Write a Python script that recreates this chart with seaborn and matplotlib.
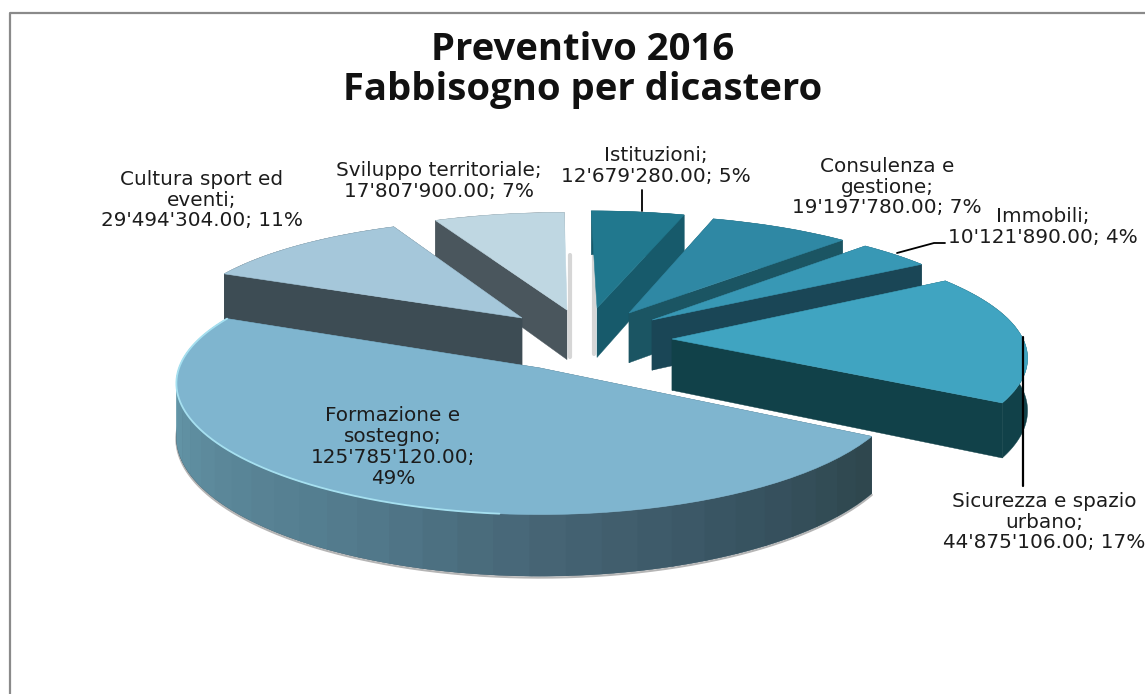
import numpy as np
import seaborn as sns
import matplotlib
matplotlib.use("Agg")
import matplotlib.pyplot as plt
from matplotlib.transforms import Transform

# ---- data ----
names = ["Istituzioni", "Consulenza e\ngestione", "Immobili", "Sicurezza e spazio\nurbano",
         "Formazione e\nsostegno", "Cultura sport ed\neventi", "Sviluppo territoriale"]
values = [12679280.0, 19197780.0, 10121890.0, 44875106.0, 125785120.0, 29494304.0, 17807900.0]
percents = [5, 7, 4, 17, 49, 11, 7]
title_lines = ["Preventivo 2016", "Fabbisogno per dicastero"]

# ---- styles ----
top_colors = ["#21788e", "#2f88a4", "#3898b5", "#40a4c1", "#7fb5cf", "#a5c7da", "#bfd7e2"]
side_colors = ["#175a6b", "#1b5563", "#1a4656", "#114149", "#3a5563", "#3d4c54", "#4a565d"]
rim_ramp = ["#6fa8bc", "#6497a9", "#5b8799", "#527a8c", "#466474", "#385462", "#2f474e"]
draw_order = [0, 6, 1, 5, 2, 3, 4]
apexes = [(597, 308), (629, 313), (652, 320), (672, 339), (540, 368), (522, 318), (567, 310)]
label_pos = [(656, 166), (887, 187), (1043, 227), (1044, 522), (393, 447), (202, 200), (439, 181)]
CX, CY, R, r, K, KX, DEPTH = 540, 368, 361, 126, 0.14, 0.12, 53


class PieProjection(Transform):
    input_dims = output_dims = 2
    is_separable = False
    has_inverse = False

    def transform_non_affine(self, pts):
        pts = np.asarray(pts, float)
        return np.column_stack([CX + R * pts[:, 0] / (1 + KX * pts[:, 1]),
                                CY - r * pts[:, 1] / (1 + K * pts[:, 1])])


def to_plane(x, y):
    d = (CY - y) / r
    v = d / (1 - K * d)
    return (x - CX) * (1 + KX * v) / R, v


def drop(u, v):
    return DEPTH / (1 + K * np.asarray(v))


proj = PieProjection()
sns.set_theme(style="white")
plt.rcParams["font.family"] = ["DejaVu Sans"]
fig, ax = plt.subplots(figsize=(11.45, 6.94), dpi=100)
ax.set_position([0, 0, 1, 1])

wedges, _ = ax.pie(values, colors=top_colors, startangle=90, counterclock=False,
                   wedgeprops=dict(transform=proj + ax.transData, linewidth=0.4))
ax.set_aspect("auto")
ax.set_xlim(0, 1145)
ax.set_ylim(694, 0)
ax.set_axis_off()

for rank, i in enumerate(draw_order):
    w = wedges[i]
    cu, cv = to_plane(*apexes[i])
    w.set_center((cu, cv))
    w.set_edgecolor(top_colors[i])
    w.set_zorder(10 + 3 * rank + 2)
    th = np.radians(np.linspace(w.theta1, w.theta2, 1200))
    u = cu + np.cos(th)
    v = cv + np.sin(th)
    arc = proj.transform_non_affine(np.column_stack([u, v]))
    d = drop(u, v)
    apex_xy = proj.transform_non_affine(np.array([[cu, cv]]))[0]
    apex_d = drop(cu, cv)
    z = 10 + 3 * rank
    # cut faces (the wedges at twelve o'clock show only one)
    faces = {0: (0,), 6: (-1,)}.get(i, (0, -1))
    for j in faces:
        ax.fill([apex_xy[0], arc[j, 0], arc[j, 0], apex_xy[0]],
                [apex_xy[1], arc[j, 1], arc[j, 1] + d[j], apex_xy[1] + apex_d],
                color=side_colors[i], lw=0.3, zorder=z)
    # outer rim: a solid base, then the vertical bands of the big wedge
    ax.fill(np.r_[arc[:, 0], arc[::-1, 0]], np.r_[arc[:, 1], (arc[:, 1] + d)[::-1]],
            color=side_colors[i], lw=0.3, zorder=z + 1)
    if i == 4:
        n_bands = 34
        bands = sns.blend_palette(rim_ramp, n_bands)
        slices = np.array_split(np.arange(len(th)), n_bands)
        for b, idx in enumerate(slices):
            idx = np.arange(max(idx[0] - 2, 0), min(idx[-1] + 3, len(th)))
            ax.fill(np.r_[arc[idx, 0], arc[idx[::-1], 0]],
                    np.r_[arc[idx, 1], (arc[idx, 1] + d[idx])[::-1]],
                    color=bands[b], lw=0, zorder=z + 1 + b / 100)
        m = arc[:, 0] < 500
        ax.plot(arc[m, 0], arc[m, 1], color="#a6e0f0", lw=1.3, zorder=z + 2.5)
        ax.plot(arc[:, 0], arc[:, 1] + d + 1.5, color="#b5b5b5", lw=1.5, zorder=z - 1)
    if i in (0, 6):
        # soft shadow beside the straight back edge of the top wedges
        side = -1 if i == 0 else 1
        ax.plot([apex_xy[0] + side * 3] * 2, [255, apex_xy[1] + apex_d - 3],
                color="#d6d6d6", lw=3, zorder=z - 1)

# frame of the picture
ax.plot([10, 10, 1145], [694, 12.5, 12.5], color="#8a8a8a", lw=1.6, zorder=1)

# leader lines
ax.plot([641.5, 641.5], [190, 211], color="black", lw=1.3, zorder=60)
ax.plot([897, 934, 945], [253, 243, 243], color="black", lw=1.3, zorder=60)
ax.plot([1023, 1023], [337, 486], color="black", lw=1.6, zorder=60)

# texts
for y, line in zip((48, 88), title_lines):
    ax.text(583, y + 1.5, line, ha="center", va="center", fontsize=27.5, fontweight="bold",
            family=["Open Sans", "DejaVu Sans"], color="#111111", zorder=70)
for name, val, pct, (x, y) in zip(names, values, percents, label_pos):
    amount = f"{val:,.2f}".replace(",", "'")
    if pct == 49:
        body = f"{name};\n{amount};\n{pct}%"
    else:
        body = f"{name};\n{amount}; {pct}%"
    ax.text(x, y, body, ha="center", va="center", fontsize=14.4, color="#1c1c1c",
            linespacing=1.13, zorder=70)

fig.savefig("out.png", dpi=100, facecolor="white")
